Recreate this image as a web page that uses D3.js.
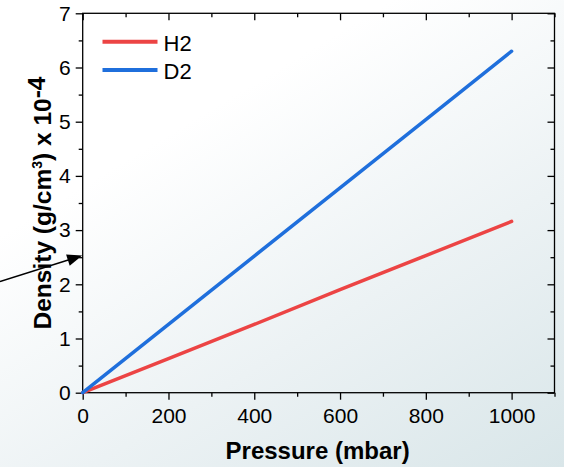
<!DOCTYPE html>
<html>
<head>
<meta charset="utf-8">
<script src="https://cdn.jsdelivr.net/npm/d3@7/dist/d3.min.js"></script>
<style>
  html, body { margin: 0; padding: 0; background: #fff; }
  svg { display: block; }
  text { font-family: "Liberation Sans", Arial, sans-serif; fill: #000; }
</style>
</head>
<body>
<svg id="chart" width="564" height="467"></svg>
<script>
// Gas density versus pressure
const pressure = [0, 200, 400, 600, 800, 1000];           // mbar
const densityH2 = [0, 0.63, 1.26, 1.90, 2.53, 3.16];       // g/cm³ × 10⁻⁴
const densityD2 = [0, 1.26, 2.52, 3.78, 5.04, 6.30];       // g/cm³ × 10⁻⁴
const seriesNames = ["H2", "D2"];
const seriesColors = ["#ec4444", "#1f6fdc"];
const xTicks = [0, 200, 400, 600, 800, 1000];
const yTicks = [0, 1, 2, 3, 4, 5, 6, 7];
const arrowTip = { p: 0, d: 2.53 };

const W = 564, H = 467;
const m = { left: 82.7, right: 554.5, top: 13.3, bottom: 392.7 };

const svg = d3.select("#chart");

// soft blue-grey backdrop fading in toward the lower right
const defs = svg.append("defs");
const grad = defs.append("linearGradient")
  .attr("id", "bg").attr("x1", "42%").attr("y1", "20%").attr("x2", "100%").attr("y2", "100%");
grad.append("stop").attr("offset", "0").attr("stop-color", "#ffffff");
grad.append("stop").attr("offset", "0.5").attr("stop-color", "#ecf2f4");
grad.append("stop").attr("offset", "1").attr("stop-color", "#d9e6e9");
svg.append("rect").attr("width", W).attr("height", H).attr("fill", "url(#bg)");

const x = d3.scaleLinear().domain([0, 1100]).range([m.left, m.right]);
const y = d3.scaleLinear().domain([0, 7]).range([m.bottom, m.top]);

const minorX = d3.range(100, 1101, 200);
const minorY = d3.range(0.5, 7, 1);

function styleAxis(g) {
  g.select(".domain").remove();
  g.selectAll(".tick line").attr("stroke", "#000").attr("stroke-width", 1.3);
  g.selectAll("text").style("font-size", "21px").attr("fill", "#000");
}

// bottom axis (outward ticks, labelled)
svg.append("g").attr("transform", `translate(0,${m.bottom})`)
  .call(d3.axisBottom(x).tickValues(xTicks).tickSize(7).tickPadding(8).tickFormat(d3.format("d")))
  .call(styleAxis);
svg.append("g").attr("transform", `translate(0,${m.bottom})`)
  .call(d3.axisBottom(x).tickValues(minorX).tickSize(4).tickFormat(""))
  .call(styleAxis);

// left axis (outward ticks, labelled)
svg.append("g").attr("transform", `translate(${m.left},0)`)
  .call(d3.axisLeft(y).tickValues(yTicks).tickSize(7).tickPadding(5).tickFormat(d3.format("d")))
  .call(styleAxis);
svg.append("g").attr("transform", `translate(${m.left},0)`)
  .call(d3.axisLeft(y).tickValues(minorY).tickSize(4).tickFormat(""))
  .call(styleAxis);

// top axis (inward ticks)
svg.append("g").attr("transform", `translate(0,${m.top})`)
  .call(d3.axisTop(x).tickValues(xTicks).tickSize(-7).tickFormat(""))
  .call(styleAxis);
svg.append("g").attr("transform", `translate(0,${m.top})`)
  .call(d3.axisTop(x).tickValues(minorX).tickSize(-4).tickFormat(""))
  .call(styleAxis);

// right axis (inward ticks)
svg.append("g").attr("transform", `translate(${m.right},0)`)
  .call(d3.axisRight(y).tickValues(yTicks).tickSize(-7).tickFormat(""))
  .call(styleAxis);
svg.append("g").attr("transform", `translate(${m.right},0)`)
  .call(d3.axisRight(y).tickValues(minorY).tickSize(-4).tickFormat(""))
  .call(styleAxis);

// frame
svg.append("rect")
  .attr("x", m.left).attr("y", m.top)
  .attr("width", m.right - m.left).attr("height", m.bottom - m.top)
  .attr("fill", "none").attr("stroke", "#000").attr("stroke-width", 1.3);

// series lines
const line = d3.line().x(d => x(d[0])).y(d => y(d[1]));
[densityH2, densityD2].forEach((vals, i) => {
  svg.append("path")
    .datum(pressure.map((p, k) => [p, vals[k]]))
    .attr("d", line)
    .attr("fill", "none")
    .attr("stroke", seriesColors[i])
    .attr("stroke-width", 3.5)
    .attr("stroke-linecap", "round");
});

// legend
const leg = svg.append("g");
seriesNames.forEach((name, i) => {
  const ly = 41.7 + i * 28.3;
  leg.append("line")
    .attr("x1", 102.5).attr("x2", 157.5).attr("y1", ly).attr("y2", ly)
    .attr("stroke", seriesColors[i]).attr("stroke-width", 4);
  leg.append("text")
    .attr("x", 163.5).attr("y", ly + 9.2)
    .style("font-size", "22px")
    .text(name);
});

// axis titles
svg.append("text")
  .attr("x", (m.left + m.right) / 2 - 1).attr("y", 459)
  .attr("text-anchor", "middle")
  .style("font-size", "24px").style("font-weight", "bold")
  .text("Pressure (mbar)");

const yt = svg.append("text")
  .attr("transform", `translate(51,${(m.top + m.bottom) / 2}) rotate(-90)`)
  .attr("text-anchor", "middle")
  .style("font-size", "24.5px").style("font-weight", "bold");
yt.append("tspan").text("Density (g/cm");
yt.append("tspan").attr("dy", -9).style("font-size", "14px").text("3");
yt.append("tspan").attr("dy", 9).text(") x 10");
yt.append("tspan").attr("dy", -6).text("-4");

// pointer arrow aimed at the left axis
const tip = [x(arrowTip.p) - 0.5, y(arrowTip.d)];
const tail = [0, y(arrowTip.d) + 26];
const len = Math.hypot(tip[0] - tail[0], tip[1] - tail[1]);
const ux = (tip[0] - tail[0]) / len, uy = (tip[1] - tail[1]) / len;
const headLen = 15, headHalf = 6;
const base = [tip[0] - ux * headLen, tip[1] - uy * headLen];
svg.append("line")
  .attr("x1", tail[0]).attr("y1", tail[1])
  .attr("x2", base[0] + ux * 2).attr("y2", base[1] + uy * 2)
  .attr("stroke", "#000").attr("stroke-width", 1.4);
svg.append("path")
  .attr("d", d3.line()([
    tip,
    [base[0] - uy * headHalf, base[1] + ux * headHalf],
    [base[0] + uy * headHalf, base[1] - ux * headHalf]
  ]) + "Z")
  .attr("fill", "#000");
</script>
</body>
</html>
